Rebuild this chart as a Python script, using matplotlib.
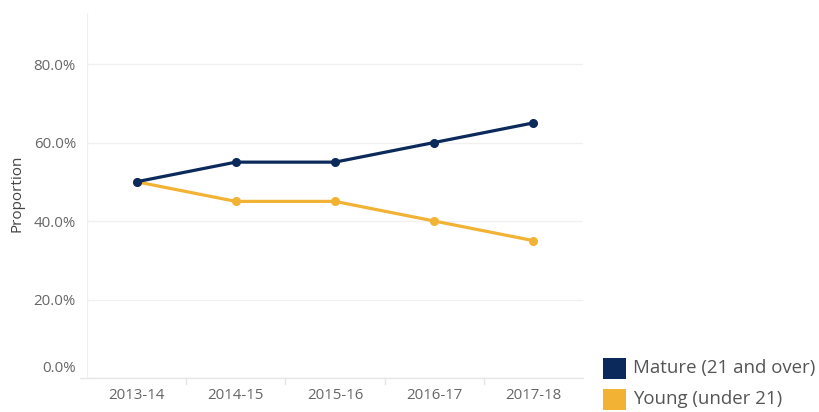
import matplotlib
matplotlib.use("Agg")
import matplotlib.pyplot as plt
from matplotlib.patches import Rectangle
from matplotlib.ticker import FuncFormatter
import matplotlib.transforms as mtransforms

plt.rcParams['font.family'] = ['Open Sans', 'DejaVu Sans']

years = ["2013-14", "2014-15", "2015-16", "2016-17", "2017-18"]
mature = [0.50, 0.55, 0.55, 0.60, 0.65]
young = [0.50, 0.45, 0.45, 0.40, 0.35]
series_names = ["Mature (21 and over)", "Young (under 21)"]
colors = ["#0b2a5b", "#f2b233"]
yticks = [0.0, 0.2, 0.4, 0.6, 0.8]

W, H = 819, 412
fig = plt.figure(figsize=(W / 100, H / 100), dpi=100)
ax = fig.add_axes([87 / W, 1 - 378 / H, (583 - 87) / W, (378 - 13) / H])

x = list(range(len(years)))
ax.plot(x, young, color=colors[1], lw=2.3, marker='o', ms=5.5, zorder=3,
        solid_capstyle='round')
ax.plot(x, mature, color=colors[0], lw=2.3, marker='o', ms=5.5, zorder=4,
        solid_capstyle='round')

ax.set_xlim(-0.5, len(years) - 0.5)
ax.set_ylim(0, 0.93)
ax.set_yticks(yticks)
ax.yaxis.set_major_formatter(FuncFormatter(lambda v, p: f"{v*100:.1f}%"))
ax.set_xticks(x)
ax.set_xticklabels(years)

for s in ['top', 'right', 'bottom', 'left']:
    ax.spines[s].set_visible(False)
ax.grid(axis='y', color='#f0f0f0', lw=1)
ax.axvline(-0.5, color='#f0f0f0', lw=1)
ax.axhline(0, color='#e6e6e6', lw=1, xmin=-7 / 496, xmax=1, clip_on=False)
for i in range(1, len(years)):
    ax.plot([i - 0.5, i - 0.5], [0, -0.016], color='#e6e6e6', lw=1, clip_on=False)

ax.tick_params(axis='both', length=0, labelsize=10.8, labelcolor='#666666')
ax.tick_params(axis='y', pad=8)
ax.tick_params(axis='x', pad=7)
fig.canvas.draw()
ylabels = ax.get_yticklabels()
ylabels[0].set_transform(ylabels[0].get_transform() +
                         mtransforms.ScaledTranslation(0, 11 / 100, fig.dpi_scale_trans))

fig.text(17.5 / W, 1 - 193 / H, "Proportion", rotation=90, fontsize=11,
         color='#444444', ha='center', va='center')

# Legend
for i, (name, c) in enumerate(zip(series_names, colors)):
    ytop = 358 + i * 31
    fig.patches.append(Rectangle((603 / W, 1 - (ytop + 21) / H), 23 / W, 21 / H,
                                 transform=fig.transFigure, facecolor=c,
                                 edgecolor='none'))
    fig.text(633 / W, 1 - (ytop + 10.5) / H, name, fontsize=13.4,
             color='#555555', va='center', ha='left')

fig.savefig("out.png", dpi=100)
